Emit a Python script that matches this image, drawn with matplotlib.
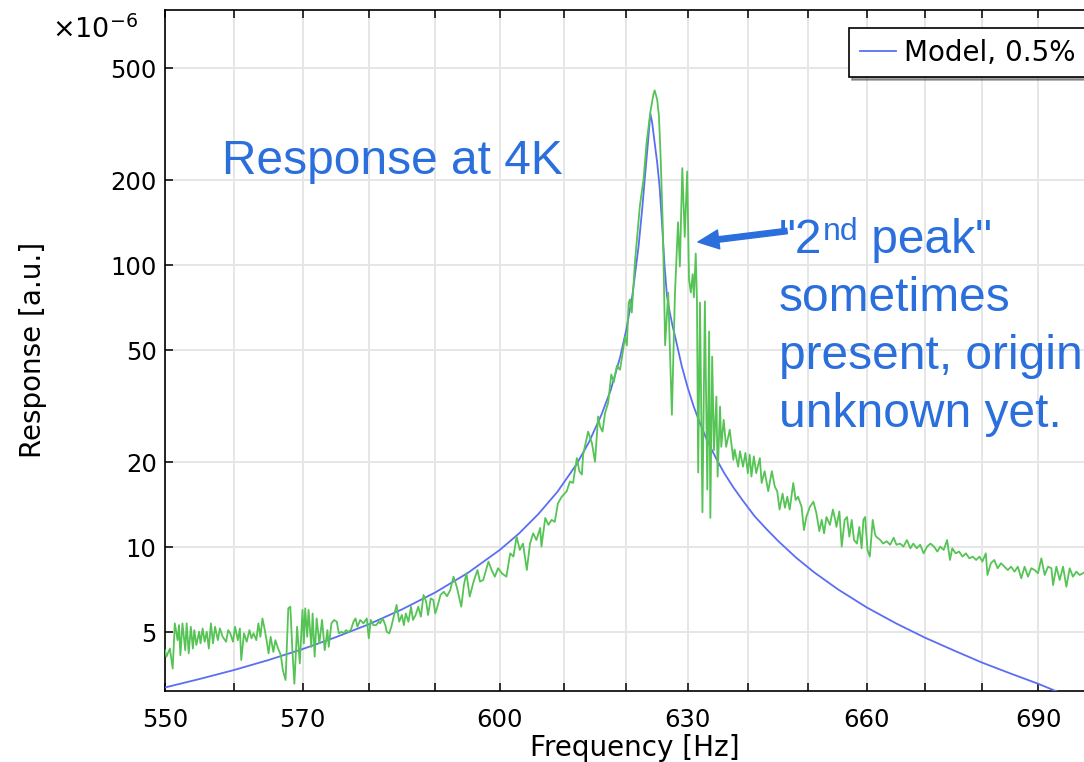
import matplotlib
matplotlib.use('Agg')
import matplotlib.pyplot as plt

# model curve (fit, 0.5% damping), units of 1e-6
model_freq = [550.0, 555.0, 560.0, 565.0, 570.0, 575.0, 580.0, 585.0, 590.0, 595.0,
              600.0, 603.0, 606.0, 609.0, 612.0, 614.0, 616.0, 617.5, 619.0, 620.0,
              621.0, 622.0, 622.6, 623.1, 623.5, 623.9, 624.2, 624.6, 625.0, 625.4,
              625.8, 626.2, 626.6, 627.0, 627.5, 628.0, 629.0, 630.0, 631.0, 632.0,
              633.0, 634.0, 635.0, 636.0, 637.5, 639.0, 641.0, 643.0, 645.0, 648.0,
              651.0, 655.0, 660.0, 665.0, 670.0, 675.0, 680.0, 685.0, 690.0, 693.0,
              698.5]
model_resp = [3.18, 3.41, 3.67, 3.98, 4.35, 4.80, 5.34, 6.03, 6.91, 8.10,
              9.79, 11.2, 13.1, 15.7, 19.6, 23.5, 29.4, 36.0, 47.0, 58.8,
              78.3, 117.0, 160.0, 215.0, 270.0, 345.0, 320.0, 272.0, 232.0, 190.0,
              140.0, 100.0, 78.0, 69.0, 61.0, 55.0, 44.0, 36.7, 31.4, 27.5,
              24.4, 22.0, 20.0, 18.3, 16.3, 14.7, 12.9, 11.6, 10.5, 9.17,
              8.15, 7.10, 6.11, 5.37, 4.78, 4.31, 3.90, 3.57, 3.28, 3.10,
              2.85]

# measured response at 4K
meas_freq = [
    550.0, 550.2, 550.7, 551.1, 551.4, 551.8, 552.0, 552.2, 552.5, 552.9,
    553.1, 553.4, 553.7, 554.0, 554.2, 554.5, 554.9, 555.1, 555.4, 555.7,
    556.0, 556.3, 556.6, 556.9, 557.2, 557.6, 557.9, 558.3, 558.8, 559.1,
    559.4, 559.8, 560.1, 560.5, 560.8, 561.0, 561.4, 561.8, 562.2, 562.5,
    562.8, 563.2, 563.5, 563.8, 564.1, 564.4, 564.7, 565.0, 565.3, 565.7,
    566.0, 566.4, 566.8, 567.1, 567.5, 567.9, 568.2, 568.5, 568.8, 569.2,
    569.6, 570.0, 570.2, 570.4, 570.7, 570.9, 571.3, 571.5, 571.8, 572.1,
    572.5, 572.9, 573.3, 573.7, 573.9, 574.3, 574.7, 575.1, 575.4, 575.8,
    576.1, 576.5, 576.8, 577.2, 577.6, 577.9, 578.2, 578.6, 579.1, 579.6,
    579.9, 580.2, 580.6, 581.0, 581.4, 581.6, 582.0, 582.4, 582.6, 583.0,
    583.3, 583.6, 584.1, 584.5, 584.9, 585.2, 585.5, 585.9, 586.3, 586.6,
    587.0, 587.4, 587.8, 588.2, 588.6, 588.9, 589.3, 589.7, 590.0, 590.4,
    590.8, 591.3, 591.8, 592.3, 592.8, 593.3, 594.0, 594.4, 594.8, 595.3,
    595.9, 596.5, 596.9, 597.4, 598.2, 598.7, 599.2, 599.7, 600.3, 601.0,
    601.6, 602.1, 602.6, 603.1, 603.6, 604.2, 604.7, 605.2, 605.7, 606.3,
    606.5, 607.1, 607.6, 608.1, 608.6, 609.1, 609.7, 610.5, 611.0, 611.5,
    612.1, 612.5, 612.9, 613.1, 613.9, 614.5, 615.0, 615.5, 615.8, 616.2,
    616.6, 617.1, 617.6, 618.0, 618.5, 619.0, 619.5, 619.8, 620.1, 620.4,
    620.6, 620.9, 621.4, 622.2, 622.8, 623.3, 623.9, 624.4, 624.6, 625.0,
    625.3, 625.6, 625.9, 626.1, 626.3, 626.8, 627.4, 627.9, 628.4, 628.7,
    629.1, 629.5, 629.9, 630.2, 630.5, 630.8, 631.0, 631.3, 631.5, 631.7,
    632.0, 632.4, 632.8, 633.2, 633.5, 633.7, 634.0, 634.3, 634.7, 634.9,
    635.3, 635.5, 635.9, 636.3, 636.9, 637.5, 637.7, 638.3, 638.6, 639.1,
    639.5, 639.9, 640.2, 640.5, 640.9, 641.3, 641.9, 642.2, 642.7, 643.3,
    643.9, 644.4, 644.8, 645.2, 645.7, 646.1, 646.5, 646.9, 647.5, 647.9,
    648.3, 648.9, 649.3, 649.7, 650.3, 650.9, 651.4, 651.9, 652.3, 652.7,
    653.1, 653.7, 654.2, 654.6, 654.8, 655.3, 655.7, 656.2, 656.6, 657.0,
    657.4, 657.8, 658.3, 658.7, 659.1, 659.4, 659.7, 660.1, 660.5, 661.0,
    661.4, 661.6, 662.3, 662.8, 663.4, 664.0, 664.6, 665.1, 665.7, 666.3,
    666.9, 667.5, 668.0, 668.6, 669.2, 669.8, 670.4, 671.0, 671.6, 672.2,
    672.7, 673.3, 673.9, 674.4, 674.8, 675.4, 676.0, 676.6, 677.2, 677.8,
    678.4, 679.0, 679.6, 680.1, 680.7, 681.0, 681.6, 682.2, 682.8, 683.4,
    684.0, 684.6, 685.2, 685.8, 686.4, 687.0, 687.6, 688.2, 688.8, 689.4,
    690.0, 690.6, 691.2, 691.8, 692.4, 692.7, 693.3, 693.9, 694.5, 695.1,
    695.7, 696.3, 696.9, 697.5, 698.1, 698.5]
meas_resp = [
    4.31, 4.09, 4.37, 3.71, 5.37, 4.68, 5.29, 4.14, 5.37, 4.31,
    5.37, 4.20, 5.22, 4.37, 5.08, 4.50, 5.01, 4.56, 5.15, 4.62,
    5.01, 4.37, 5.37, 4.56, 5.22, 4.68, 5.15, 4.81, 4.62, 5.08,
    4.95, 4.62, 5.22, 4.68, 5.15, 3.98, 4.95, 4.62, 5.08, 4.75,
    4.95, 4.68, 5.37, 4.81, 5.59, 5.15, 4.68, 4.20, 4.81, 4.25,
    4.68, 4.37, 4.14, 3.66, 3.38, 6.07, 6.15, 4.31, 3.28, 5.22,
    3.87, 5.99, 4.56, 6.07, 4.81, 5.99, 4.43, 5.82, 4.09, 5.59,
    4.56, 5.52, 4.31, 5.08, 4.43, 5.37, 5.52, 5.44, 4.95, 5.01,
    4.95, 5.08, 5.01, 5.08, 5.44, 5.59, 5.22, 5.52, 5.37, 5.59,
    4.75, 5.52, 5.29, 5.29, 5.44, 5.37, 5.59, 5.29, 5.01, 4.95,
    5.22, 5.59, 6.24, 5.44, 5.75, 5.29, 5.82, 5.44, 6.15, 5.52,
    5.75, 6.15, 5.67, 6.77, 6.41, 5.75, 6.58, 6.50, 5.82, 6.24,
    6.77, 6.95, 6.70, 7.05, 7.86, 7.24, 6.15, 7.34, 8.08, 6.68,
    7.55, 8.30, 7.55, 7.65, 8.89, 8.30, 7.86, 8.42, 8.08, 7.86,
    9.51, 9.26, 10.9, 9.78, 10.3, 8.30, 10.3, 11.2, 10.6, 11.7,
    10.05, 12.7, 12.0, 12.5, 12.3, 14.3, 15.1, 15.8, 17.1, 16.9,
    20.7, 18.6, 18.1, 21.3, 25.7, 23.4, 20.1, 29.1, 26.8, 25.7,
    29.9, 32.5, 41.0, 38.5, 44.0, 42.6, 50.0, 55.8, 52.0, 73.7,
    75.6, 68.0, 102.0, 162.0, 202.0, 273.0, 349.0, 404.0, 417.0, 388.0,
    338.0, 232.0, 142.0, 89.0, 52.0, 80.0, 29.5, 79.0, 142.0, 99.0,
    221.0, 126.0, 215.0, 89.0, 80.0, 93.0, 77.0, 110.0, 75.0, 18.4,
    73.7, 13.3, 74.4, 16.0, 58.2, 12.7, 47.4, 22.1, 34.2, 17.8,
    31.5, 22.7, 28.3, 22.7, 26.1, 20.4, 22.2, 19.3, 21.9, 19.3,
    21.6, 18.3, 21.3, 17.8, 21.0, 18.3, 20.7, 16.9, 18.6, 15.8,
    18.6, 16.4, 15.8, 13.6, 15.5, 13.8, 15.1, 13.6, 16.9, 14.7,
    15.1, 13.9, 11.5, 12.8, 13.9, 14.5, 13.2, 11.4, 12.5, 11.2,
    12.8, 12.0, 13.6, 12.5, 11.8, 13.4, 10.05, 12.5, 12.8, 10.9,
    12.5, 10.6, 10.3, 11.8, 9.91, 12.5, 12.8, 9.78, 9.26, 12.5,
    11.1, 10.9, 10.6, 10.3, 10.5, 10.2, 10.8, 10.2, 10.3, 10.05,
    10.6, 9.91, 10.3, 9.91, 10.2, 9.51, 10.05, 10.3, 10.05, 9.65,
    10.05, 9.78, 10.6, 9.01, 9.91, 9.51, 9.65, 9.26, 9.51, 9.13,
    9.26, 9.01, 9.26, 8.89, 9.51, 7.97, 8.77, 9.01, 8.42, 8.77,
    8.53, 8.30, 8.53, 8.19, 8.53, 7.76, 8.53, 7.86, 8.42, 8.30,
    8.08, 9.13, 7.97, 8.53, 8.42, 7.34, 8.53, 7.65, 8.53, 7.24,
    8.42, 7.86, 8.19, 7.97, 8.08, 8.19]

x_ticks = [550, 560, 570, 580, 590, 600, 610, 620, 630, 640, 650, 660, 670, 680, 690, 700]
x_tick_labels = ['550', '', '570', '', '', '600', '', '', '630', '', '', '660', '', '', '690', '']
y_ticks = [5, 10, 20, 50, 100, 200, 500]
y_tick_labels = ['5', '10', '20', '50', '100', '200', '500']

MODEL_BLUE = '#5b6ef2'
MEAS_GREEN = '#55c455'
NOTE_BLUE = '#2b6fdc'
NOTE_FONT = 'Liberation Sans'

W, H = 1084, 762
fig = plt.figure(figsize=(W / 100, H / 100), dpi=100)
# axes run past the right edge of the picture, like the cropped original
ax = fig.add_axes([165 / W, (H - 691) / H, (1100 - 165) / W, (691 - 10) / H])
ax.set_xscale('log')
ax.set_yscale('log')

ax.plot(model_freq, model_resp, color=MODEL_BLUE, lw=1.3, label='Model, 0.5%', zorder=3)
ax.plot(meas_freq, meas_resp, color=MEAS_GREEN, lw=1.3, zorder=4)

ax.set_xlim(550, 701.2)
ax.set_ylim(3.09, 804)
ax.set_xticks(x_ticks)
ax.set_xticklabels(x_tick_labels)
ax.set_yticks(y_ticks)
ax.set_yticklabels(y_tick_labels)
ax.minorticks_off()
ax.tick_params(which='both', direction='in', length=6, width=1.1, top=True, right=True,
               labelsize=17.5, colors='black')
ax.tick_params(axis='x', pad=12)
ax.tick_params(axis='y', pad=6)
ax.grid(True, color='#e6e6e6', lw=1.4)
ax.set_axisbelow(True)
for s in ax.spines.values():
    s.set_linewidth(1.2)

leg = ax.legend(loc='upper left', bbox_to_anchor=(849 / W, 1 - 28 / H),
                bbox_transform=fig.transFigure, borderaxespad=0, fancybox=False,
                shadow=True, fontsize=20, handlelength=1.3, handletextpad=0.3,
                borderpad=0.38, framealpha=1)
leg.get_frame().set_edgecolor('black')
leg.get_frame().set_linewidth(1.2)

fig.text(52 / W, 1 - 38 / H, r'$\times10^{-6}$', fontsize=19.5, va='baseline')
fig.text(33 / W, 1 - 350 / H, 'Response [a.u.]', rotation=90, fontsize=20,
         ha='center', va='center')
fig.text(635 / W, 1 - 748 / H, 'Frequency [Hz]', fontsize=20, ha='center', va='center')

# slide annotations
fig.text(222 / W, 1 - 174 / H, 'Response at 4K', fontsize=34.5, family=NOTE_FONT,
         color=NOTE_BLUE, va='baseline')

renderer = fig.canvas.get_renderer()
t1 = fig.text(779 / W, 1 - 253 / H, '"2', fontsize=34.5, family=NOTE_FONT,
              color=NOTE_BLUE, va='baseline')
bb = t1.get_window_extent(renderer)
t2 = fig.text(bb.x1 / W, 1 - 240 / H, 'nd', fontsize=23, family=NOTE_FONT,
              color=NOTE_BLUE, va='baseline')
bb = t2.get_window_extent(renderer)
fig.text(bb.x1 / W, 1 - 253 / H, ' peak"', fontsize=34.5, family=NOTE_FONT,
         color=NOTE_BLUE, va='baseline')
for i, line in enumerate(['sometimes', 'present, origin', 'unknown yet.']):
    fig.text(779 / W, 1 - (311 + 58 * i) / H, line, fontsize=34.5, family=NOTE_FONT,
             color=NOTE_BLUE, va='baseline')

ax.annotate('', xy=(698, H - 242), xytext=(787, H - 231), xycoords='figure pixels',
            textcoords='figure pixels',
            arrowprops=dict(arrowstyle='simple,head_length=1.15,head_width=1.05,tail_width=0.3',
                            mutation_scale=13, color=NOTE_BLUE, shrinkA=0, shrinkB=0))

fig.savefig('out.png', dpi=100)
